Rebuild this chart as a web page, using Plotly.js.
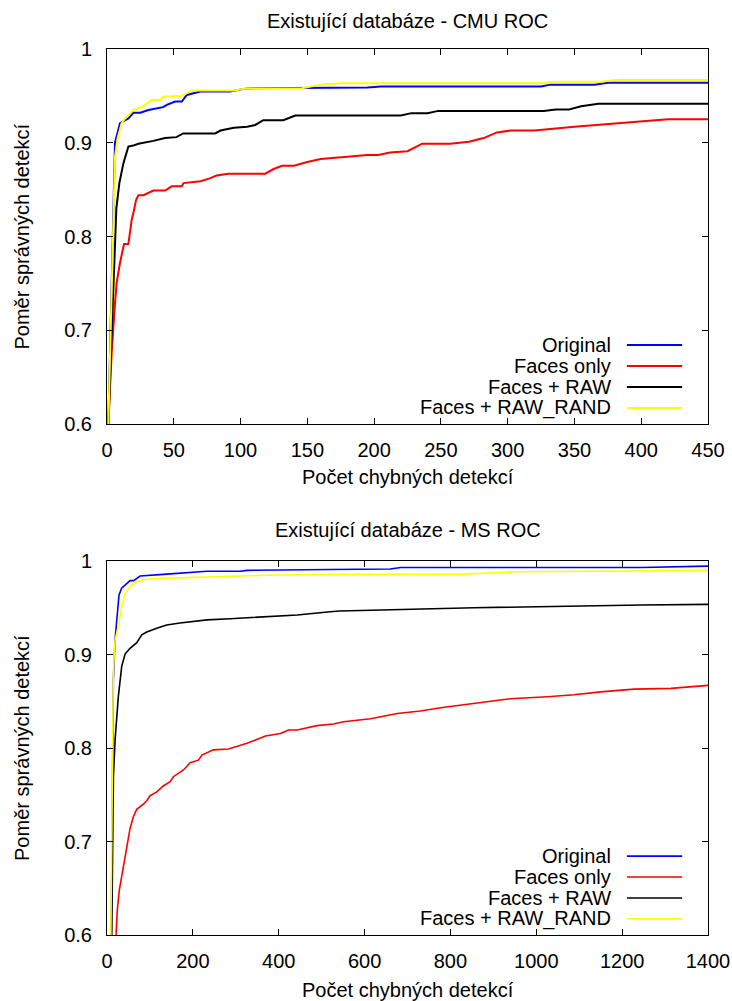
<!DOCTYPE html>
<html>
<head>
<meta charset="utf-8">
<script src="https://cdn.plot.ly/plotly-3.0.1.min.js"></script>
<style>html,body{margin:0;padding:0;background:#fff;}#chart{width:732px;height:1001px;}</style>
</head>
<body>
<div id="chart"></div>
<script>
// ---------- DATA ----------
var seriesNames = ["Original", "Faces only", "Faces + RAW", "Faces + RAW_RAND"];
var seriesColors = ["#0000ff", "#ff0000", "#000000", "#ffff00"];

var titleTop = "Existující databáze - CMU ROC";
var titleBottom = "Existující databáze - MS ROC";
var xTitle = "Počet chybných detekcí";
var yTitle = "Poměr správných detekcí";

// CMU ROC (top)
var cmuOrigX = [1, 4, 6, 9.75, 16, 19.75, 25, 31, 42, 44.75, 51, 56, 59.75, 70, 92, 105, 195, 205, 325, 332, 365, 375, 450];
var cmuOrigY = [0.6, 0.8, 0.9, 0.921, 0.926, 0.932, 0.932, 0.935, 0.938, 0.9404, 0.944, 0.944, 0.951, 0.9546, 0.9546, 0.958, 0.959, 0.960, 0.960, 0.962, 0.962, 0.964, 0.964];

var cmuFacesX = [1, 2, 3.5, 6, 7.25, 9.75, 12.75, 16, 17.25, 18.5, 19.75, 21.75, 23.5, 27.25, 34.75, 43.5, 48.5, 56, 57.25, 70, 77, 82, 91, 118.5, 124.75, 131, 140, 150, 160, 182, 195, 203, 212, 225, 236, 257, 271, 282, 292, 302, 320, 350, 375, 400, 420, 450];
var cmuFacesY = [0.6, 0.63, 0.676, 0.729, 0.751, 0.772, 0.792, 0.792, 0.807, 0.818, 0.825, 0.839, 0.844, 0.844, 0.849, 0.849, 0.8535, 0.8535, 0.857, 0.859, 0.862, 0.865, 0.867, 0.867, 0.872, 0.8755, 0.8755, 0.8795, 0.8826, 0.8854, 0.887, 0.887, 0.8897, 0.891, 0.899, 0.899, 0.901, 0.905, 0.911, 0.913, 0.913, 0.917, 0.920, 0.923, 0.925, 0.925];

var cmuRawX = [1, 5, 7, 9.25, 12.25, 16, 19.7, 23.5, 28.5, 34.7, 43.5, 52, 57, 81, 85, 95, 105, 111, 117, 132, 141, 220, 228, 240, 248, 327, 336, 346, 355, 368, 450];
var cmuRawY = [0.6, 0.75, 0.83, 0.857, 0.878, 0.896, 0.897, 0.899, 0.900, 0.902, 0.905, 0.906, 0.910, 0.910, 0.913, 0.916, 0.917, 0.919, 0.924, 0.924, 0.929, 0.929, 0.9316, 0.9316, 0.934, 0.934, 0.9355, 0.9355, 0.939, 0.9415, 0.9415];

var cmuRandX = [1, 4.5, 6, 8, 11, 13, 19.75, 27, 33.5, 40, 42, 56, 62, 67, 95, 105, 145, 160, 175, 325, 335, 370, 380, 450];
var cmuRandY = [0.6, 0.807, 0.885, 0.905, 0.921, 0.925, 0.935, 0.9386, 0.9457, 0.9457, 0.949, 0.950, 0.9546, 0.9557, 0.9557, 0.958, 0.958, 0.962, 0.9635, 0.9635, 0.965, 0.965, 0.967, 0.967];

// MS ROC (bottom)
var msOrigX = [10, 12.4, 14.8, 18.7, 22.6, 28, 34, 46, 53.7, 62, 77, 131, 194, 233, 310, 327, 520, 660, 684, 1244, 1400];
var msOrigY = [0.6, 0.809, 0.873, 0.9155, 0.940, 0.9636, 0.971, 0.976, 0.979, 0.979, 0.984, 0.9857, 0.9875, 0.989, 0.989, 0.990, 0.991, 0.9915, 0.993, 0.993, 0.9945];

var msFacesX = [21, 24, 28.7, 34.2, 42, 47.5, 53.7, 61.4, 69.2, 84.7, 92.6, 100.3, 116, 131, 147, 154.7, 178, 193.7, 213, 221, 248, 283, 326, 369, 404, 423, 443, 489, 528, 551, 614, 676, 730, 777, 824, 886, 940, 1026, 1088, 1150, 1228, 1314, 1400];
var msFacesY = [0.6, 0.6267, 0.648, 0.6624, 0.6838, 0.698, 0.714, 0.7265, 0.7344, 0.740, 0.7436, 0.749, 0.753, 0.7594, 0.764, 0.7693, 0.7765, 0.7843, 0.787, 0.7925, 0.798, 0.799, 0.805, 0.8128, 0.8155, 0.8193, 0.8193, 0.8239, 0.8257, 0.828, 0.8313, 0.837, 0.8396, 0.843, 0.846, 0.850, 0.8527, 0.8549, 0.857, 0.860, 0.863, 0.8638, 0.867];

var msRawX = [11, 15, 19, 26.4, 34.2, 42, 53.7, 69.3, 81, 92.6, 116, 139, 170, 233, 287, 365, 443, 520, 542, 855, 1088, 1244, 1400];
var msRawY = [0.6, 0.77, 0.81, 0.855, 0.887, 0.9005, 0.9066, 0.9127, 0.921, 0.924, 0.928, 0.9316, 0.9337, 0.937, 0.9383, 0.940, 0.9422, 0.9458, 0.9465, 0.950, 0.9522, 0.953, 0.9536];

var msRandX = [9, 12.5, 14.7, 18.7, 26.4, 34.2, 42, 53.7, 69, 92.6, 131, 248, 365, 520, 830, 956, 1244, 1400];
var msRandY = [0.6, 0.81, 0.880, 0.9155, 0.930, 0.951, 0.9654, 0.9726, 0.978, 0.9807, 0.9815, 0.983, 0.9847, 0.9857, 0.986, 0.9886, 0.989, 0.990];

var topXTicks = [0, 50, 100, 150, 200, 250, 300, 350, 400, 450];
var bottomXTicks = [0, 200, 400, 600, 800, 1000, 1200, 1400];
var yTicks = [0.6, 0.7, 0.8, 0.9, 1];

// ---------- BUILD ----------
var FONT = "Liberation Sans, Arial, Helvetica, sans-serif";
var topSeries = [[cmuOrigX, cmuOrigY], [cmuFacesX, cmuFacesY], [cmuRawX, cmuRawY], [cmuRandX, cmuRandY]];
var botSeries = [[msOrigX, msOrigY], [msFacesX, msFacesY], [msRawX, msRawY], [msRandX, msRandY]];

var traces = [];
topSeries.forEach(function (s, i) {
  traces.push({x: s[0], y: s[1], type: "scatter", mode: "lines", name: seriesNames[i],
    xaxis: "x", yaxis: "y", showlegend: false, line: {color: seriesColors[i], width: 2}});
});
botSeries.forEach(function (s, i) {
  traces.push({x: s[0], y: s[1], type: "scatter", mode: "lines", name: seriesNames[i],
    xaxis: "x2", yaxis: "y2", showlegend: false, line: {color: seriesColors[i], width: 1.6}});
});

function axisBase() {
  return {showline: true, linecolor: "#000", linewidth: 1, mirror: "allticks",
    ticks: "inside", ticklen: 6, tickcolor: "#000", showgrid: false, zeroline: false,
    tickfont: {family: FONT, size: 20, color: "#000"}, fixedrange: true};
}
var xa = axisBase(); xa.range = [0, 450]; xa.tickvals = topXTicks; xa.anchor = "y"; xa.ticklabelstandoff = 8;
var ya = axisBase(); ya.range = [0.6, 1]; ya.tickvals = yTicks; ya.anchor = "x"; ya.domain = [0.5767, 1]; ya.ticklabelstandoff = 10;
var xb = axisBase(); xb.range = [0, 1400]; xb.tickvals = bottomXTicks; xb.anchor = "y2"; xb.ticklabelstandoff = 8;
var yb = axisBase(); yb.range = [0.6, 1]; yb.tickvals = yTicks; yb.anchor = "x2"; yb.domain = [0, 0.4221]; yb.ticklabelstandoff = 10;

var txtFont = {family: FONT, size: 20, color: "#000"};
var annotations = [
  {text: titleTop, xref: "paper", yref: "paper", x: 0.5, y: 1.0316, xanchor: "center", yanchor: "middle", showarrow: false, font: txtFont},
  {text: titleBottom, xref: "paper", yref: "paper", x: 0.5, y: 0.4571, xanchor: "center", yanchor: "middle", showarrow: false, font: txtFont},
  {text: xTitle, xref: "paper", yref: "paper", x: 0.5, y: 0.5169, xanchor: "center", yanchor: "middle", showarrow: false, font: txtFont},
  {text: xTitle, xref: "paper", yref: "paper", x: 0.5, y: -0.0621, xanchor: "center", yanchor: "middle", showarrow: false, font: txtFont},
  {text: yTitle, xref: "paper", yref: "paper", x: -0.1414, y: 0.7883, xanchor: "center", yanchor: "middle", textangle: -90, showarrow: false, font: txtFont},
  {text: yTitle, xref: "paper", yref: "paper", x: -0.1414, y: 0.2111, xanchor: "center", yanchor: "middle", textangle: -90, showarrow: false, font: txtFont}
];
var shapes = [];
var legRows = [0.211, 0.155, 0.099, 0.043];
[["x", "y"], ["x2", "y2"]].forEach(function (ax, k) {
  seriesNames.forEach(function (nm, i) {
    annotations.push({text: nm, xref: ax[0] + " domain", yref: ax[1] + " domain", x: 0.842, y: legRows[i],
      xanchor: "right", yanchor: "middle", showarrow: false, font: txtFont});
    shapes.push({type: "line", xref: ax[0] + " domain", yref: ax[1] + " domain", x0: 0.865, x1: 0.957,
      y0: legRows[i], y1: legRows[i], line: {color: seriesColors[i], width: k === 0 ? 2 : 1.6}});
  });
});

var layout = {
  width: 732, height: 1001,
  margin: {l: 107, r: 24, t: 49, b: 66},
  paper_bgcolor: "#fff", plot_bgcolor: "#fff",
  showlegend: false,
  xaxis: xa, yaxis: ya, xaxis2: xb, yaxis2: yb,
  annotations: annotations, shapes: shapes,
  font: {family: FONT, color: "#000"}
};
Plotly.newPlot("chart", traces, layout, {displayModeBar: false, staticPlot: true});
</script>
</body>
</html>
